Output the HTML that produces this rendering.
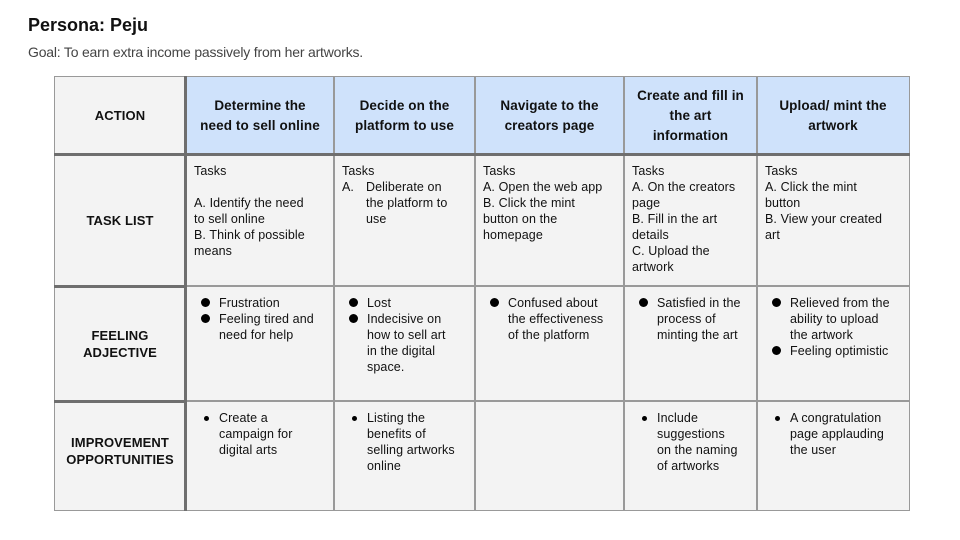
<!DOCTYPE html>
<html><head><style>
body{margin:0;width:960px;height:540px;background:#fff;font-family:"Liberation Sans",Arial,sans-serif;position:relative;overflow:hidden;color:#111}
.c{position:absolute;box-sizing:border-box;background:#f3f3f3;font-size:12.5px;line-height:16px;padding:9px 8px;white-space:nowrap;letter-spacing:0.1px}
.h{background:#cfe2fb;font-weight:bold;font-size:13.5px;line-height:20px;display:flex;align-items:center;justify-content:center;text-align:center;padding:0 6px}
.l{font-weight:bold;font-size:13px;display:flex;align-items:center;justify-content:center;text-align:center;line-height:17px;padding:0}
.v{position:absolute;background:#999}
.t{position:absolute;background:#6e6e6e}
ul{margin:0;padding:0 0 0 25px}
li{margin:0}
ul.b{list-style:none}
ul.b li{position:relative}
ul.b li:before{content:"";position:absolute;left:-18px;top:3px;width:9px;height:9px;border-radius:50%;background:#000}
ul.s{list-style:none}
ul.s li{position:relative}
ul.s li:before{content:"";position:absolute;left:-15px;top:6px;width:5px;height:5px;border-radius:50%;background:#000}
</style></head><body>
<div style="position:absolute;left:28px;top:15px;font-size:18px;font-weight:bold">Persona: Peju</div>
<div style="position:absolute;left:28px;top:44px;font-size:14px;color:#444;letter-spacing:-0.2px">Goal: To earn extra income passively from her artworks.</div>

<div class="c l" style="left:54px;top:77px;width:132px;height:77px">ACTION</div>
<div class="c h" style="left:186px;top:77px;width:148px;height:77px">Determine the<br>need to sell online</div>
<div class="c h" style="left:334px;top:77px;width:141px;height:77px">Decide on the<br>platform to use</div>
<div class="c h" style="left:475px;top:77px;width:149px;height:77px">Navigate to the<br>creators page</div>
<div class="c h" style="left:624px;top:77px;width:133px;height:77px">Create and fill in<br>the art<br>information</div>
<div class="c h" style="left:757px;top:77px;width:152px;height:77px">Upload/ mint the<br>artwork</div>

<div class="c l" style="left:54px;top:154px;width:132px;height:132px">TASK LIST</div>
<div class="c" style="left:186px;top:154px;width:148px;height:132px">Tasks<br><br>A. Identify the need<br>to sell online<br>B. Think of possible<br>means</div>
<div class="c" style="left:334px;top:154px;width:141px;height:132px">Tasks<div style="display:flex"><span style="width:24px">A.</span><span style="flex:1">Deliberate on<br>the platform to<br>use</span></div></div>
<div class="c" style="left:475px;top:154px;width:149px;height:132px">Tasks<br>A. Open the web app<br>B. Click the mint<br>button on the<br>homepage</div>
<div class="c" style="left:624px;top:154px;width:133px;height:132px">Tasks<br>A. On the creators<br>page<br>B. Fill in the art<br>details<br>C. Upload the<br>artwork</div>
<div class="c" style="left:757px;top:154px;width:152px;height:132px">Tasks<br>A. Click the mint<br>button<br>B. View your created<br>art</div>

<div class="c l" style="left:54px;top:286px;width:132px;height:115px">FEELING<br>ADJECTIVE</div>
<div class="c" style="left:186px;top:286px;width:148px;height:115px"><ul class="b"><li>Frustration</li><li>Feeling tired and<br>need for help</li></ul></div>
<div class="c" style="left:334px;top:286px;width:141px;height:115px"><ul class="b"><li>Lost</li><li>Indecisive on<br>how to sell art<br>in the digital<br>space.</li></ul></div>
<div class="c" style="left:475px;top:286px;width:149px;height:115px"><ul class="b"><li>Confused about<br>the effectiveness<br>of the platform</li></ul></div>
<div class="c" style="left:624px;top:286px;width:133px;height:115px"><ul class="b"><li>Satisfied in the<br>process of<br>minting the art</li></ul></div>
<div class="c" style="left:757px;top:286px;width:152px;height:115px"><ul class="b"><li>Relieved from the<br>ability to upload<br>the artwork</li><li>Feeling optimistic</li></ul></div>

<div class="c l" style="left:54px;top:401px;width:132px;height:110px;padding-bottom:10px">IMPROVEMENT<br>OPPORTUNITIES</div>
<div class="c" style="left:186px;top:401px;width:148px;height:110px"><ul class="s"><li>Create a<br>campaign for<br>digital arts</li></ul></div>
<div class="c" style="left:334px;top:401px;width:141px;height:110px"><ul class="s"><li>Listing the<br>benefits of<br>selling artworks<br>online</li></ul></div>
<div class="c" style="left:475px;top:401px;width:149px;height:110px"></div>
<div class="c" style="left:624px;top:401px;width:133px;height:110px"><ul class="s"><li>Include<br>suggestions<br>on the naming<br>of artworks</li></ul></div>
<div class="c" style="left:757px;top:401px;width:152px;height:110px"><ul class="s"><li>A congratulation<br>page applauding<br>the user</li></ul></div>

<div class="v" style="left:54px;top:76px;width:856px;height:1px"></div>
<div class="v" style="left:54px;top:510px;width:856px;height:1px"></div>
<div class="v" style="left:54px;top:76px;width:1px;height:435px"></div>
<div class="v" style="left:909px;top:76px;width:1px;height:435px"></div>
<div class="v" style="left:333px;top:76px;width:2px;height:435px"></div>
<div class="v" style="left:474px;top:76px;width:2px;height:435px"></div>
<div class="v" style="left:623px;top:76px;width:2px;height:435px"></div>
<div class="v" style="left:756px;top:76px;width:2px;height:435px"></div>
<div class="v" style="left:54px;top:400px;width:856px;height:2px"></div>
<div class="v" style="left:54px;top:285px;width:856px;height:2px"></div>
<div class="t" style="left:54px;top:285px;width:132px;height:3px"></div>
<div class="t" style="left:54px;top:400px;width:132px;height:3px"></div>
<div class="t" style="left:54px;top:153px;width:856px;height:3px"></div>
<div class="t" style="left:184px;top:76px;width:3px;height:435px"></div>
</body></html>
